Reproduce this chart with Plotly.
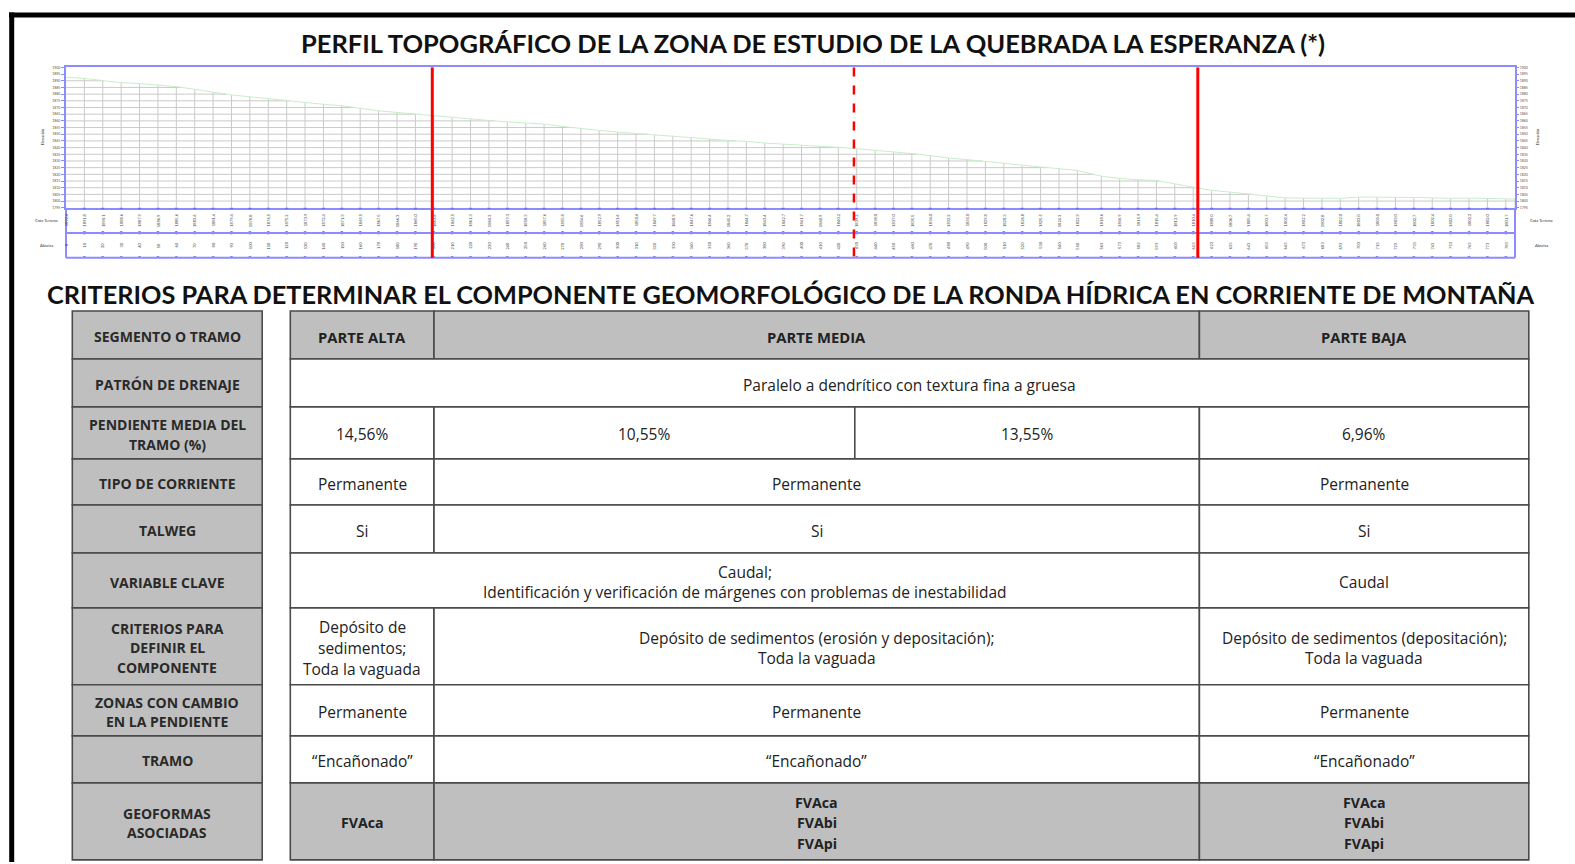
import plotly.graph_objects as go

W, H = 1575, 864

# ---------------- data ----------------
title_profile = "PERFIL TOPOGRÁFICO DE LA ZONA DE ESTUDIO DE LA QUEBRADA LA ESPERANZA (*)"
title_table = ("CRITERIOS PARA DETERMINAR EL COMPONENTE GEOMORFOLÓGICO DE LA RONDA "
               "HÍDRICA EN CORRIENTE DE MONTAÑA")

station_m = [0, 10, 20, 30, 40, 50, 60, 70, 80, 90, 100, 110, 120, 130, 140, 150, 160, 170,
             180, 190, 200, 210, 220, 230, 240, 250, 260, 270, 280, 290, 300, 310, 320, 330,
             340, 350, 360, 370, 380, 390, 400, 410, 420, 430, 440, 450, 460, 470, 480, 490,
             500, 510, 520, 530, 540, 550, 563, 573, 583, 593, 603, 613, 623, 633, 643, 653,
             663, 673, 683, 693, 703, 713, 723, 733, 743, 753, 763, 773, 783, 788]
elevation_m = [1892.6, 1891.8, 1890.1, 1888.6, 1887.9, 1886.9, 1885.6, 1883.6, 1881.4, 1879.4,
               1878.0, 1876.5, 1875.2, 1873.9, 1872.4, 1871.3, 1869.5, 1867.5, 1866.3, 1865.0,
               1863.8, 1862.5, 1861.3, 1860.3, 1859.3, 1858.3, 1857.6, 1855.8, 1854.6, 1852.9,
               1851.6, 1850.6, 1849.7, 1848.9, 1847.6, 1846.4, 1845.2, 1844.7, 1843.4, 1842.7,
               1841.7, 1840.9, 1840.2, 1839.2, 1838.0, 1837.0, 1835.5, 1834.0, 1832.2, 1831.0,
               1829.8, 1828.3, 1826.8, 1825.5, 1824.3, 1822.9, 1818.6, 1816.9, 1815.9, 1815.4,
               1812.9, 1810.4, 1808.0, 1806.7, 1805.4, 1803.7, 1802.4, 1802.2, 1802.0, 1802.0,
               1803.0, 1803.0, 1803.0, 1802.7, 1802.4, 1802.0, 1802.2, 1802.0, 1801.7, 1801.5]
elev_min, elev_max, elev_step = 1795, 1900, 5
section_bounds_m = [199.2, 428.5, 615.5]
section_dash = ["solid", "dash", "solid"]
row_label_names = ["Cota Terreno", "Abscisa"]
axis_title = "Elevación"

row_headers = ["SEGMENTO O TRAMO", "PATRÓN DE DRENAJE", "PENDIENTE MEDIA DEL<br>TRAMO (%)",
               "TIPO DE CORRIENTE", "TALWEG", "VARIABLE CLAVE",
               "CRITERIOS PARA<br>DEFINIR EL<br>COMPONENTE", "ZONAS CON CAMBIO<br>EN LA PENDIENTE",
               "TRAMO", "GEOFORMAS<br>ASOCIADAS"]
segments = ["PARTE ALTA", "PARTE MEDIA", "PARTE BAJA"]
drainage_pattern = ["Paralelo a dendrítico con textura fina a gruesa"]
mean_slope = ["14,56%", "10,55%", "13,55%", "6,96%"]
current_type = ["Permanente", "Permanente", "Permanente"]
talweg = ["Si", "Si", "Si"]
key_variable = ["Caudal;<br>Identificación y verificación de márgenes con problemas de inestabilidad",
                "Caudal"]
criteria = ["Depósito de<br>sedimentos;<br>Toda la vaguada",
            "Depósito de sedimentos (erosión y depositación);<br>Toda la vaguada",
            "Depósito de sedimentos (depositación);<br>Toda la vaguada"]
slope_change = ["Permanente", "Permanente", "Permanente"]
reach = ["“Encañonado”", "“Encañonado”", "“Encañonado”"]
landforms = ["FVAca", "FVAca<br>FVAbi<br>FVApi", "FVAca<br>FVAbi<br>FVApi"]

# ---------------- layout geometry (pixels) ----------------
TFONT = "Lato"
BFONT = "Open Sans"
BLUE = "#8c8cff"
GRID = "#cacaca"
px = lambda x: x / W
py = lambda y: 1 - y / H

plot_l, plot_r, plot_t, plot_b = 66, 1515, 65.7, 206.7
rows_b = 257
TEXT_DY = 1.6

col_x = [72.3, 262.2, 290.3, 434, 854.8, 1199.4, 1528.8]
row_y = [310.4, 358.6, 406.8, 459, 505.3, 553.5, 608.7, 686, 737.3, 784.5, 861.9]
three = [(2, 3), (3, 5), (5, 6)]
row_cells = [
    (segments, three),
    (drainage_pattern, [(2, 6)]),
    (mean_slope, [(2, 3), (3, 4), (4, 5), (5, 6)]),
    (current_type, three),
    (talweg, three),
    (key_variable, [(2, 5), (5, 6)]),
    (criteria, three),
    (slope_change, three),
    (reach, three),
    (landforms, three),
]
gray_rows = {0, 9}
bold_rows = {0, 9}


def ann(x, y, text, size, color="#222", family=BFONT, weight="normal", angle=0,
        xref="paper", yref="paper"):
    return dict(x=x, y=y, xref=xref, yref=yref, text=text, showarrow=False, textangle=angle,
                xanchor="center", yanchor="middle", align="center",
                font=dict(size=size, color=color, family=family, weight=weight))


def cell_text(xc, yc, text, size, lh, color, weight):
    lines = text.split("<br>")
    n = len(lines)
    return [ann(px(xc), py(yc + TEXT_DY + (i - (n - 1) / 2) * lh), ln, size, color, BFONT, weight)
            for i, ln in enumerate(lines)]


fig = go.Figure()

# ---------- profile: gridlines below terrain ----------
gx, gy = [], []
for s, e in zip(station_m[1:], elevation_m[1:]):
    gx += [s, s, None]
    gy += [elev_min, e, None]
lvl = elev_min + elev_step
while lvl < elev_max:
    xe = None
    for i in range(len(station_m)):
        if elevation_m[i] < lvl:
            if i > 0:
                x0, x1 = station_m[i - 1], station_m[i]
                e0, e1 = elevation_m[i - 1], elevation_m[i]
                xe = x0 + (e0 - lvl) / (e0 - e1) * (x1 - x0)
            else:
                xe = 0
            break
    if xe is None:
        xe = station_m[-1]
    if xe > 0:
        gx += [0, xe, None]
        gy += [lvl, lvl, None]
    lvl += elev_step
fig.add_trace(go.Scatter(x=gx, y=gy, mode="lines", line=dict(color=GRID, width=1),
                         hoverinfo="skip", showlegend=False))
fig.add_trace(go.Scatter(x=station_m, y=elevation_m, mode="lines",
                         line=dict(color="#c8eec8", width=1), hoverinfo="skip", showlegend=False))
fig.add_trace(go.Scatter(x=[station_m[0], station_m[-1]], y=[elev_min, elev_max], mode="markers",
                         marker=dict(opacity=0), yaxis="y2", hoverinfo="skip", showlegend=False))

# ---------- label rows under profile ----------
rx, ry = [], []
for lvl_r in [0, 1, 2]:
    rx += station_m[1:-1]
    ry += [lvl_r] * (len(station_m) - 2)
fig.add_trace(go.Scatter(x=rx, y=ry, mode="markers", yaxis="y3",
                         marker=dict(color="#6a6aff", size=3.5, symbol="circle"),
                         hoverinfo="skip", showlegend=False))
annotations = []
for s, e in zip(station_m[:-1], elevation_m[:-1]):
    annotations.append(ann(s, 1.5, f"{e:.1f}", 4, "#444", TFONT, angle=-90, xref="x", yref="y3"))
    annotations.append(ann(s, 0.5, f"{s:.0f}", 4, "#444", TFONT, angle=-90, xref="x", yref="y3"))

shapes = []
for yy in [232, rows_b]:
    shapes.append(dict(type="line", xref="paper", yref="paper", x0=px(plot_l), x1=px(plot_r),
                       y0=py(yy), y1=py(yy), line=dict(color=BLUE, width=2)))
for xx in [plot_l, plot_r]:
    shapes.append(dict(type="line", xref="paper", yref="paper", x0=px(xx), x1=px(xx),
                       y0=py(plot_b), y1=py(rows_b), line=dict(color=BLUE, width=2)))
for name, yy in zip(row_label_names, [219.5, 244.5]):
    for xx in [46, 1541]:
        annotations.append(ann(px(xx), py(yy), name, 4, "#333", TFONT))
for xx in [42, 1537]:
    annotations.append(ann(px(xx), py(136), axis_title, 4, "#333", TFONT, angle=-90))

# red section lines
for b, d in zip(section_bounds_m, section_dash):
    shapes.append(dict(type="line", xref="x", yref="paper", x0=b, x1=b, y0=py(plot_t),
                       y1=py(rows_b), line=dict(color="#ff0000", width=3 if d == "solid" else 2.5,
                                                dash=d)))

# ---------- page frame ----------
shapes.append(dict(type="line", xref="paper", yref="paper", x0=px(9), x1=1.0, y0=py(13),
                   y1=py(13), line=dict(color="black", width=5)))
shapes.append(dict(type="line", xref="paper", yref="paper", x0=px(11.7), x1=px(11.7),
                   y0=py(10.5), y1=0, line=dict(color="black", width=5)))

# ---------- titles ----------
annotations.append(ann(px(813.5), py(41.5), title_profile, 25.5, "#111", TFONT, "bold"))
annotations.append(ann(px(790.5), py(293.5), title_table, 25.3, "#111", TFONT, "bold"))

# ---------- table ----------
LINE = dict(color="#4a4a4a", width=1.6)
for r in range(len(row_headers)):
    y0, y1 = row_y[r], row_y[r + 1]
    yc = (y0 + y1) / 2
    shapes.append(dict(type="rect", xref="paper", yref="paper", x0=px(col_x[0]), x1=px(col_x[1]),
                       y0=py(y1), y1=py(y0), fillcolor="#bfbfbf", line=LINE, layer="below"))
    annotations += cell_text((col_x[0] + col_x[1]) / 2, yc, row_headers[r], 14.0, 19.2,
                             "#2a2a2a", "bold")
    texts, spans = row_cells[r]
    for t, (c0, c1) in zip(texts, spans):
        shapes.append(dict(type="rect", xref="paper", yref="paper", x0=px(col_x[c0]),
                           x1=px(col_x[c1]), y0=py(y1), y1=py(y0),
                           fillcolor="#bfbfbf" if r in gray_rows else "white", line=LINE,
                           layer="below"))
        bold = r in bold_rows
        size = (14.8 if r == 0 else 14.2) if bold else 15.5
        annotations += cell_text((col_x[c0] + col_x[c1]) / 2, yc, t, size,
                                 21.0 if bold else 20.8, "#222", "bold" if bold else "normal")

fig.update_layout(
    width=W, height=H, autosize=False, margin=dict(l=0, r=0, t=0, b=0),
    paper_bgcolor="white", plot_bgcolor="rgba(0,0,0,0)", showlegend=False,
    xaxis=dict(domain=[px(plot_l), px(plot_r)], range=[station_m[0], station_m[-1]],
               showgrid=False, zeroline=False, showticklabels=False, showline=True,
               linecolor=BLUE, linewidth=2, mirror=True, ticks=""),
    yaxis=dict(domain=[py(plot_b), py(plot_t)], range=[elev_min, elev_max], dtick=elev_step,
               showgrid=False, zeroline=False, showline=True, linecolor=BLUE, linewidth=2,
               mirror=True, ticks="outside", ticklen=3, tickcolor=BLUE,
               tickfont=dict(size=3.5, color="#555", family=TFONT)),
    yaxis2=dict(overlaying="y", side="right", range=[elev_min, elev_max], dtick=elev_step,
                showgrid=False, zeroline=False, showline=False, ticks="outside", ticklen=3,
                tickcolor=BLUE, tickfont=dict(size=3.5, color="#555", family=TFONT)),
    yaxis3=dict(domain=[py(rows_b), py(plot_b)], range=[0, 2], showgrid=False, zeroline=False,
                showticklabels=False, showline=False, anchor="x"),
    shapes=shapes, annotations=annotations,
)

fig.write_html("out.html", config={"displayModeBar": False},
               post_script="document.body.style.margin='0';document.body.style.overflow='hidden';")
